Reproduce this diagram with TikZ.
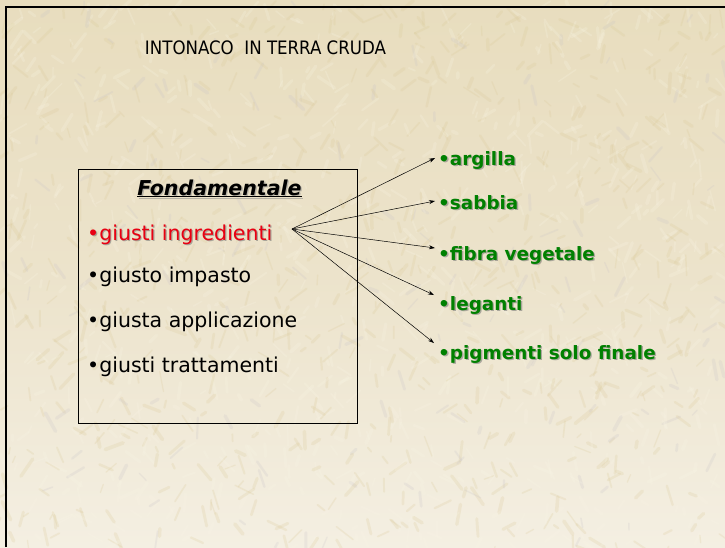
\documentclass[tikz,border=0pt]{standalone}
\usepackage{fontspec}
\setmainfont{DejaVu Sans}
\newfontfamily\condfont{DejaVu Sans Condensed}
\usetikzlibrary{arrows.meta}
\definecolor{bgtop}{RGB}{232,221,190}
\definecolor{bgmid}{RGB}{236,227,203}
\definecolor{bgbot}{RGB}{244,239,226}
\definecolor{strawA}{RGB}{218,200,150}
\definecolor{strawB}{RGB}{250,246,230}
\definecolor{strawC}{RGB}{200,195,200}
\definecolor{itemgreen}{RGB}{0,128,0}
\definecolor{itemred}{RGB}{232,0,18}
\tikzset{
  px/.style={x=1pt,y=-1pt},
  txt/.style={anchor=base west,inner sep=0pt,font=\fontsize{20.5}{24}\selectfont},
  greentxt/.style={anchor=base west,inner sep=0pt,font=\fontsize{18.4}{22}\selectfont\bfseries,text=itemgreen},
  shadow/.style={text=black!55,opacity=0.55},
  arr/.style={-{Stealth[length=6pt,width=4pt]},line width=0.5pt,black},
  frameline/.style={line width=2pt,black},
  straw/.style={line cap=round,opacity=0.22},
}
\begin{document}
\begin{tikzpicture}[px]
\useasboundingbox (0,0) rectangle (725,547);
\shade[top color=bgtop,bottom color=bgbot,middle color=bgmid] (0,0) rectangle (725,547);
% straw texture
\begin{scope}
\clip (0,0) rectangle (725,547);
\pgfmathsetseed{4711}
\foreach \i in {1,...,1600}{
  \pgfmathsetmacro{\sx}{rnd*725}
  \pgfmathsetmacro{\sy}{rnd*547}
  \pgfmathsetmacro{\sa}{20+rnd*140}
  \pgfmathsetmacro{\sl}{5+rnd*16}
  \pgfmathsetmacro{\sw}{1.2+rnd*2.5}
  \pgfmathsetmacro{\sc}{rnd}
  \ifdim\sc pt<0.45pt
    \draw[straw,strawA,line width=\sw pt] (\sx,\sy) -- ++(\sa:\sl);
  \else\ifdim\sc pt<0.9pt
    \draw[straw,strawB,line width=\sw pt] (\sx,\sy) -- ++(\sa:\sl);
  \else
    \draw[straw,strawC,line width=\sw pt] (\sx,\sy) -- ++(\sa:\sl);
  \fi\fi
}
\end{scope}
% frame
\draw[frameline] (6,547) -- (6,7) -- (725,7);
% title
\node[anchor=base,inner sep=0pt,font=\condfont\fontsize{18.5}{22}\selectfont] (title) at (265.5,54) {INTONACO\ \ IN TERRA CRUDA};
% box
\node[draw=black,line width=0.8pt,minimum width=279pt,minimum height=254pt,anchor=north west,inner sep=0pt] (box) at (78,169) {};
% Fondamentale
\node[anchor=base,inner sep=0pt,font=\fontsize{20.5}{24}\selectfont\bfseries\itshape,text=black!45,opacity=0.55] (fondS) at (220.8,196.2) {\underline{Fondamentale}};
\node[anchor=base,inner sep=0pt,font=\fontsize{20.5}{24}\selectfont\bfseries\itshape] (fond) at (219.5,195) {\underline{Fondamentale}};
% left items
\node[txt,shadow] (ingrS) at (88.2,241.2) {•giusti ingredienti};
\node[txt,text=itemred] (ingr) at (87,240) {•giusti ingredienti};
\node[txt] (impasto) at (87,282) {•giusto impasto};
\node[txt] (appl) at (87,327) {•giusta applicazione};
\node[txt] (tratt) at (87,372) {•giusti trattamenti};
% right items
\node[greentxt,shadow] (argS) at (439.3,166.3) {•argilla};
\node[greentxt] (arg) at (438,165) {•argilla};
\node[greentxt,shadow] (sabS) at (439.3,210.3) {•sabbia};
\node[greentxt] (sab) at (438,209) {•sabbia};
\node[greentxt,shadow] (fibS) at (439.3,261.3) {•fibra vegetale};
\node[greentxt] (fib) at (438,260) {•fibra vegetale};
\node[greentxt,shadow] (legS) at (439.3,311.3) {•leganti};
\node[greentxt] (leg) at (438,310) {•leganti};
\node[greentxt,shadow] (pigS) at (439.3,360.3) {•pigmenti solo finale};
\node[greentxt] (pig) at (438,359) {•pigmenti solo finale};
% arrows
\coordinate (apex) at (292,229);
\coordinate (eArg) at (435,158);
\coordinate (eSab) at (435,201);
\coordinate (eFib) at (435,248);
\coordinate (eLeg) at (434,295);
\coordinate (ePig) at (434,343);
\draw[arr] (apex) -- (eArg);
\draw[arr] (apex) -- (eSab);
\draw[arr] (apex) -- (eFib);
\draw[arr] (apex) -- (eLeg);
\draw[arr] (apex) -- (ePig);
\end{tikzpicture}
\end{document}
